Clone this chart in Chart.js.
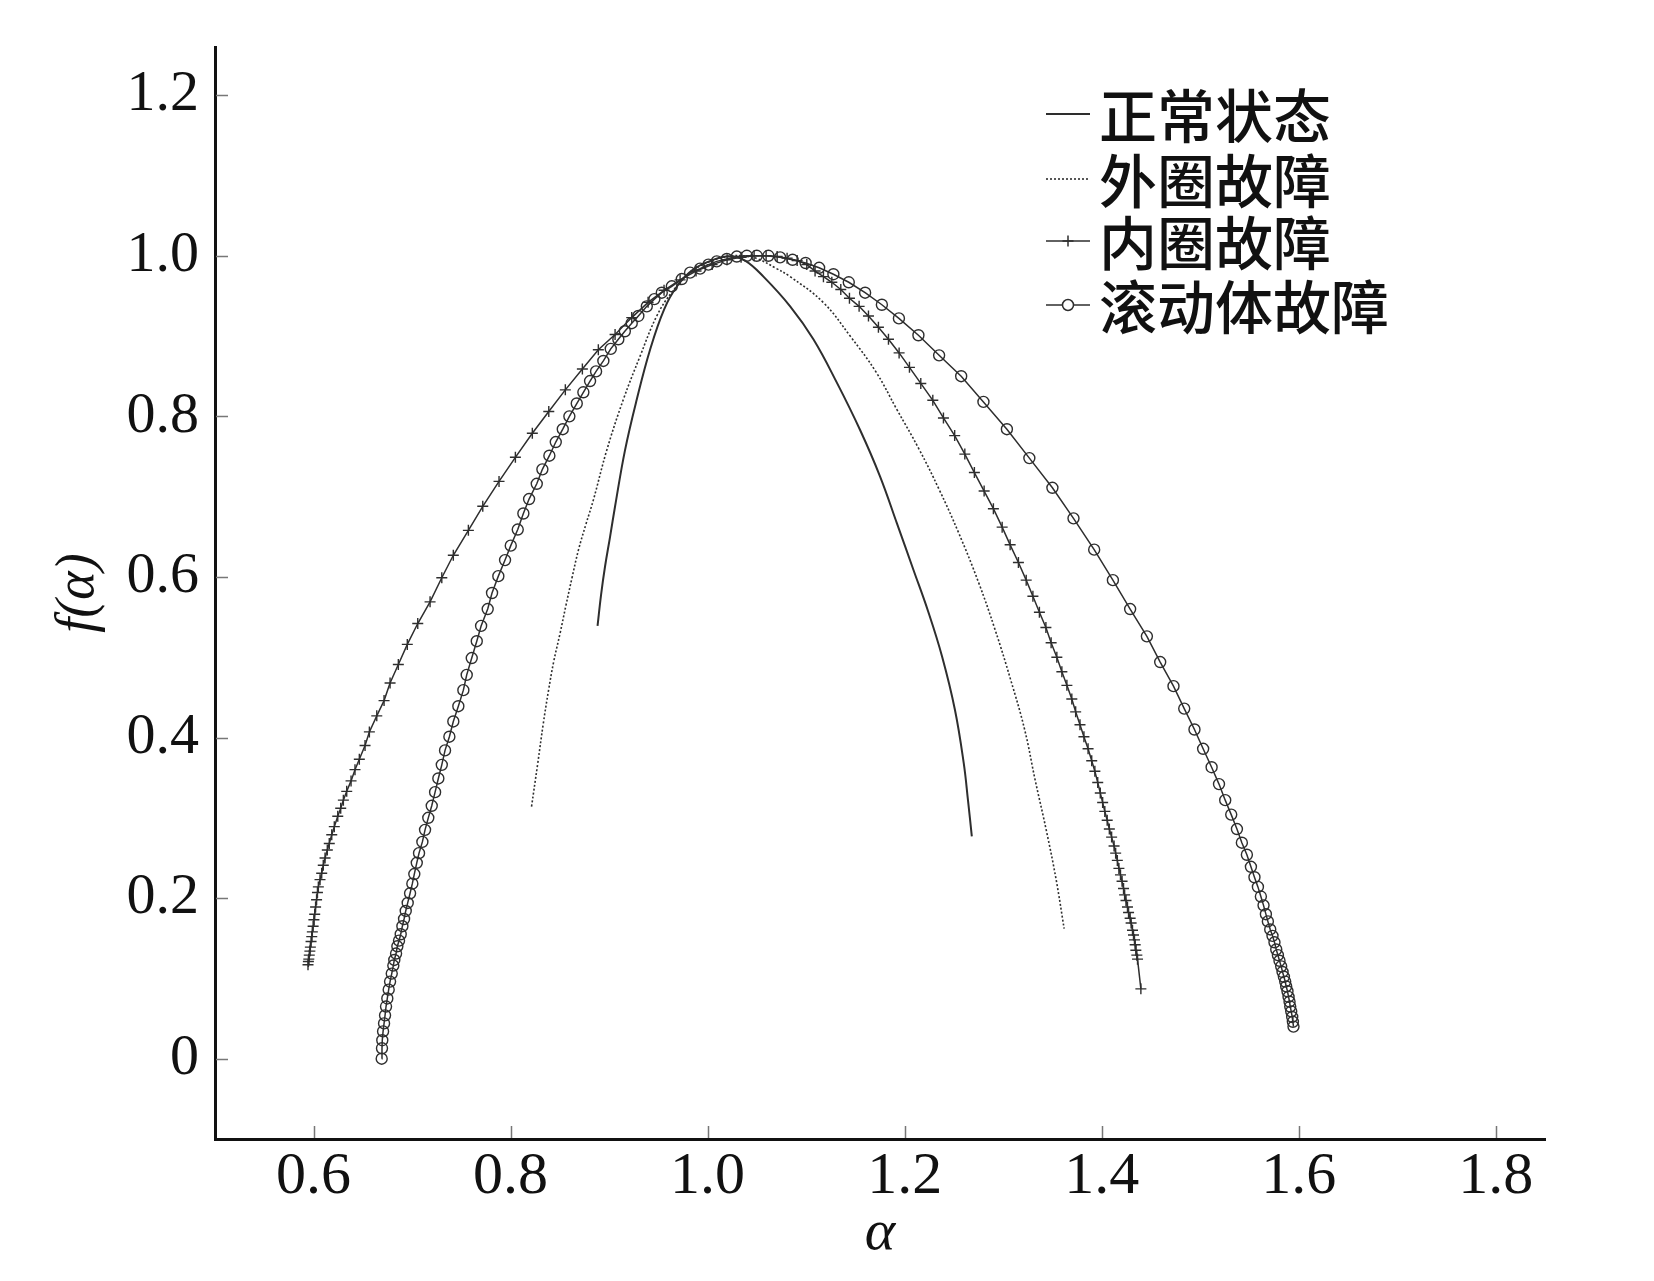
<!DOCTYPE html>
<html>
<head>
<meta charset="utf-8">
<script src="https://cdn.jsdelivr.net/npm/chart.js@4.4.1/dist/chart.umd.min.js"></script>
<style>
  html, body { margin: 0; padding: 0; background: #fff; }
  #wrap { width: 1654px; height: 1281px; }
</style>
</head>
<body>
<div id="wrap"><canvas id="chart" width="1654" height="1281"></canvas></div>
<script>
// ticks
const xTicks = [0.6, 0.8, 1.0, 1.2, 1.4, 1.6, 1.8];
const xTickLabels = ['0.6', '0.8', '1.0', '1.2', '1.4', '1.6', '1.8'];
const yTicks = [0, 0.2, 0.4, 0.6, 0.8, 1.0, 1.2];
const yTickLabels = ['0', '0.2', '0.4', '0.6', '0.8', '1.0', '1.2'];

const seriesNames = ['正常状态', '外圈故障', '内圈故障', '滚动体故障'];

// 正常状态
const normalAlpha = [0.8883, 0.8919, 0.8959, 0.9010, 0.9061, 0.9162, 0.9281, 0.9416, 0.9558, 0.9690,
  0.9856, 1.0059, 1.0228, 1.0381, 1.0567, 1.0838, 1.1074, 1.1312, 1.1548, 1.1751,
  1.1921, 1.2089, 1.2239, 1.2380, 1.2510, 1.2600, 1.2643, 1.2682];
const normalF = [0.539, 0.578, 0.613, 0.650, 0.688, 0.758, 0.821, 0.883, 0.933, 0.962,
  0.983, 0.995, 0.9995, 0.994, 0.974, 0.937, 0.896, 0.842, 0.783, 0.725,
  0.667, 0.609, 0.557, 0.501, 0.435, 0.368, 0.322, 0.277];

// 外圈故障
const outerAlpha = [0.8213, 0.8274, 0.8333, 0.8386, 0.8437, 0.8503, 0.8563, 0.8624, 0.8690, 0.8766,
  0.8841, 0.8977, 0.9145, 0.9315, 0.9484, 0.9640, 0.9822, 1.0025, 1.0228, 1.0381,
  1.0513, 1.0685, 1.0838, 1.1173, 1.1447, 1.1711, 1.1919, 1.2147, 1.2350, 1.2548,
  1.2751, 1.2919, 1.3076, 1.3218, 1.3325, 1.3437, 1.3538, 1.3619];
const outerF = [0.314, 0.366, 0.418, 0.459, 0.494, 0.530, 0.565, 0.599, 0.634, 0.666,
  0.696, 0.758, 0.821, 0.875, 0.925, 0.955, 0.979, 0.993, 0.9995, 0.9998,
  0.996, 0.985, 0.974, 0.942, 0.900, 0.855, 0.809, 0.759, 0.709, 0.655,
  0.593, 0.534, 0.472, 0.410, 0.347, 0.285, 0.223, 0.162];

// 内圈故障
const innerAlpha = [0.5944, 0.5948, 0.5952, 0.5957, 0.5963, 0.5968, 0.5975, 0.5982, 0.5988, 0.5996,
  0.6004, 0.6012, 0.6021, 0.6031, 0.6040, 0.6049, 0.6066, 0.6083, 0.6099, 0.6117,
  0.6140, 0.6160, 0.6185, 0.6211, 0.6246, 0.6276, 0.6303, 0.6337, 0.6381, 0.6421,
  0.6465, 0.6523, 0.6567, 0.6642, 0.6716, 0.6777, 0.6861, 0.6952, 0.7058, 0.7183,
  0.7302, 0.7419, 0.7572, 0.7718, 0.7883, 0.8049, 0.8221, 0.8388, 0.8556, 0.8729,
  0.8891, 0.9061, 0.9230, 0.9396, 0.9558, 0.9721, 0.9883, 1.0046, 1.0198, 1.0340,
  1.0472, 1.0594, 1.0706, 1.0807, 1.0909, 1.1007, 1.1091, 1.1176, 1.1261, 1.1352,
  1.1440, 1.1538, 1.1633, 1.1734, 1.1836, 1.1944, 1.2049, 1.2164, 1.2286, 1.2394,
  1.2508, 1.2611, 1.2708, 1.2807, 1.2901, 1.2990, 1.3071, 1.3155, 1.3234, 1.3302,
  1.3368, 1.3434, 1.3487, 1.3545, 1.3596, 1.3647, 1.3697, 1.3736, 1.3780, 1.3820,
  1.3862, 1.3899, 1.3931, 1.3960, 1.3986, 1.4010, 1.4032, 1.4056, 1.4078, 1.4101,
  1.4126, 1.4142, 1.4159, 1.4175, 1.4191, 1.4207, 1.4222, 1.4233, 1.4247, 1.4262,
  1.4273, 1.4289, 1.4299, 1.4313, 1.4323, 1.4333, 1.4340, 1.4347, 1.4357, 1.4364,
  1.4398];
const innerF = [0.117, 0.121, 0.124, 0.129, 0.134, 0.139, 0.146, 0.152, 0.158, 0.165,
  0.173, 0.180, 0.189, 0.198, 0.207, 0.214, 0.223, 0.231, 0.241, 0.250,
  0.260, 0.268, 0.279, 0.289, 0.302, 0.312, 0.322, 0.333, 0.346, 0.360,
  0.373, 0.390, 0.407, 0.427, 0.446, 0.468, 0.491, 0.516, 0.542, 0.569,
  0.599, 0.627, 0.658, 0.688, 0.719, 0.749, 0.779, 0.806, 0.833, 0.859,
  0.883, 0.902, 0.923, 0.942, 0.957, 0.970, 0.981, 0.989, 0.995, 0.998,
  0.9999, 1.000, 0.999, 0.997, 0.994, 0.989, 0.981, 0.974, 0.967, 0.958,
  0.947, 0.937, 0.925, 0.911, 0.896, 0.879, 0.861, 0.841, 0.820, 0.798,
  0.776, 0.753, 0.730, 0.707, 0.685, 0.662, 0.640, 0.618, 0.596, 0.576,
  0.556, 0.537, 0.518, 0.500, 0.482, 0.465, 0.448, 0.432, 0.416, 0.401,
  0.386, 0.371, 0.358, 0.344, 0.331, 0.319, 0.308, 0.297, 0.286, 0.276,
  0.265, 0.256, 0.247, 0.237, 0.229, 0.221, 0.212, 0.204, 0.197, 0.189,
  0.182, 0.175, 0.169, 0.160, 0.154, 0.148, 0.142, 0.135, 0.129, 0.124,
  0.087];

// 滚动体故障
const ballAlpha = [0.6692, 0.6695, 0.6698, 0.6706, 0.6716, 0.6726, 0.6736, 0.6749, 0.6763, 0.6777,
  0.6794, 0.6810, 0.6820, 0.6838, 0.6851, 0.6868, 0.6885, 0.6902, 0.6919, 0.6936,
  0.6956, 0.6980, 0.7003, 0.7023, 0.7048, 0.7071, 0.7105, 0.7132, 0.7165, 0.7200,
  0.7234, 0.7267, 0.7302, 0.7335, 0.7379, 0.7419, 0.7470, 0.7521, 0.7555, 0.7606,
  0.7657, 0.7701, 0.7768, 0.7812, 0.7876, 0.7944, 0.8002, 0.8073, 0.8130, 0.8188,
  0.8266, 0.8323, 0.8394, 0.8459, 0.8530, 0.8597, 0.8672, 0.8739, 0.8807, 0.8868,
  0.8942, 0.9017, 0.9094, 0.9160, 0.9230, 0.9297, 0.9383, 0.9460, 0.9535, 0.9637,
  0.9738, 0.9822, 0.9924, 1.0008, 1.0093, 1.0195, 1.0296, 1.0398, 1.0499, 1.0617,
  1.0736, 1.0863, 1.0995, 1.1132, 1.1277, 1.1433, 1.1599, 1.1769, 1.1942, 1.2140,
  1.2350, 1.2574, 1.2800, 1.3038, 1.3266, 1.3500, 1.3714, 1.3924, 1.4114, 1.4289,
  1.4459, 1.4594, 1.4729, 1.4838, 1.4942, 1.5030, 1.5116, 1.5191, 1.5254, 1.5315,
  1.5373, 1.5423, 1.5474, 1.5515, 1.5551, 1.5586, 1.5616, 1.5643, 1.5667, 1.5687,
  1.5711, 1.5734, 1.5754, 1.5772, 1.5789, 1.5805, 1.5822, 1.5836, 1.5850, 1.5863,
  1.5873, 1.5886, 1.5897, 1.5907, 1.5914, 1.5924, 1.5934, 1.5941, 1.5947];
const ballF = [0.000, 0.013, 0.023, 0.034, 0.044, 0.054, 0.065, 0.075, 0.086, 0.096,
  0.106, 0.116, 0.123, 0.131, 0.140, 0.147, 0.155, 0.165, 0.174, 0.184,
  0.194, 0.206, 0.218, 0.230, 0.244, 0.256, 0.270, 0.285, 0.300, 0.315,
  0.332, 0.349, 0.366, 0.384, 0.401, 0.420, 0.439, 0.459, 0.478, 0.499,
  0.520, 0.539, 0.560, 0.580, 0.601, 0.621, 0.639, 0.659, 0.679, 0.697,
  0.716, 0.734, 0.751, 0.768, 0.784, 0.800, 0.816, 0.830, 0.844, 0.856,
  0.869, 0.884, 0.896, 0.906, 0.916, 0.925, 0.937, 0.946, 0.954, 0.962,
  0.971, 0.979, 0.984, 0.989, 0.993, 0.996, 0.999, 1.000, 1.000, 1.000,
  0.998, 0.995, 0.991, 0.985, 0.977, 0.967, 0.954, 0.939, 0.922, 0.901,
  0.876, 0.850, 0.818, 0.784, 0.748, 0.711, 0.673, 0.634, 0.596, 0.560,
  0.526, 0.494, 0.464, 0.436, 0.410, 0.386, 0.363, 0.342, 0.322, 0.304,
  0.286, 0.269, 0.254, 0.239, 0.226, 0.214, 0.202, 0.191, 0.180, 0.171,
  0.161, 0.153, 0.145, 0.136, 0.129, 0.122, 0.115, 0.108, 0.102, 0.096,
  0.090, 0.084, 0.077, 0.071, 0.065, 0.059, 0.052, 0.046, 0.040];

const toPoints = (xs, ys) => xs.map((x, i) => ({ x: x, y: ys[i] }));

const LINE = '#2e2e2e';
const SERIF = '"Liberation Serif", "Times New Roman", serif';

const seriesStyles = [
  { borderWidth: 2, borderDash: [], pointStyle: false, pointRadius: 0, tension: 0.4 },
  { borderWidth: 1.6, borderDash: [2, 2], pointStyle: false, pointRadius: 0, tension: 0.4 },
  { borderWidth: 1.5, borderDash: [], pointStyle: 'cross', pointRadius: 5.5, tension: 0 },
  { borderWidth: 1.5, borderDash: [], pointStyle: 'circle', pointRadius: 5.5, tension: 0 }
];

// inward tick marks + legend drawn on the canvas
const decorPlugin = {
  id: 'decor',
  afterDraw(chart) {
    const ctx = chart.ctx;
    const xs = chart.scales.x, ys = chart.scales.y;
    const area = chart.chartArea;
    ctx.save();
    ctx.strokeStyle = '#777';
    ctx.lineWidth = 1.5;
    xTicks.forEach(v => {
      const px = Math.round(xs.getPixelForValue(v)) + 0.5;
      ctx.beginPath();
      ctx.moveTo(px, area.bottom - 1);
      ctx.lineTo(px, area.bottom - 13);
      ctx.stroke();
    });
    yTicks.forEach(v => {
      const py = Math.round(ys.getPixelForValue(v)) + 0.5;
      ctx.beginPath();
      ctx.moveTo(area.left + 1, py);
      ctx.lineTo(area.left + 13, py);
      ctx.stroke();
    });

    // legend
    const rowY = [114, 179, 241, 305];
    const x0 = 1046, x1 = 1090, tx = 1099;
    seriesNames.forEach((name, i) => {
      const st = seriesStyles[i];
      const y = rowY[i];
      ctx.strokeStyle = LINE;
      ctx.lineWidth = st.borderWidth;
      ctx.setLineDash(st.borderDash);
      ctx.beginPath();
      ctx.moveTo(x0, y);
      ctx.lineTo(x1, y);
      ctx.stroke();
      ctx.setLineDash([]);
      if (st.pointStyle) {
        ctx.fillStyle = '#fff';
        ctx.strokeStyle = LINE;
        Chart.helpers.drawPoint(ctx, {
          pointStyle: st.pointStyle, radius: st.pointRadius, borderWidth: 1.5, rotation: 0
        }, (x0 + x1) / 2, y);
      }
      ctx.fillStyle = '#111';
      ctx.font = '500 58px "Noto Sans CJK SC"';
      ctx.textBaseline = 'middle';
      ctx.textAlign = 'left';
      ctx.fillText(name, tx, y + 2);
    });
    ctx.restore();
  }
};

const dataSets = [
  toPoints(normalAlpha, normalF),
  toPoints(outerAlpha, outerF),
  toPoints(innerAlpha, innerF),
  toPoints(ballAlpha, ballF)
];

new Chart(document.getElementById('chart'), {
  type: 'scatter',
  data: {
    datasets: dataSets.map((d, i) => ({
      label: seriesNames[i],
      data: d,
      showLine: true,
      borderColor: LINE,
      backgroundColor: 'rgba(0,0,0,0)',
      borderWidth: seriesStyles[i].borderWidth,
      borderDash: seriesStyles[i].borderDash,
      pointStyle: seriesStyles[i].pointStyle || 'circle',
      pointRadius: seriesStyles[i].pointRadius,
      pointBorderColor: LINE,
      pointBackgroundColor: 'rgba(0,0,0,0)',
      pointBorderWidth: 1.4,
      tension: seriesStyles[i].tension
    }))
  },
  options: {
    responsive: false,
    animation: false,
    devicePixelRatio: 1,
    layout: { padding: { top: 47, right: 109, left: 0, bottom: 0 } },
    plugins: {
      legend: { display: false },
      tooltip: { enabled: false }
    },
    scales: {
      x: {
        type: 'linear',
        min: 0.5,
        max: 1.85,
        afterBuildTicks: s => { s.ticks = xTicks.map(v => ({ value: v })); },
        afterFit: s => { s.height = 142; },
        grid: { display: false },
        border: { display: true, color: '#111', width: 3 },
        ticks: {
          callback: (v, i) => xTickLabels[i],
          color: '#111',
          font: { family: SERIF, size: 60 },
          padding: -6,
          maxRotation: 0,
          autoSkip: false
        },
        title: {
          display: true,
          text: 'α',
          color: '#111',
          font: { family: SERIF, size: 58, style: 'italic' },
          padding: { top: 0, bottom: 12 }
        }
      },
      y: {
        type: 'linear',
        min: -0.1,
        max: 1.26,
        afterBuildTicks: s => { s.ticks = yTicks.map(v => ({ value: v })); },
        afterFit: s => { s.width = 215; },
        grid: { display: false },
        border: { display: true, color: '#111', width: 3 },
        ticks: {
          callback: (v, i) => yTickLabels[i],
          color: '#111',
          font: { family: SERIF, size: 58 },
          padding: 8,
          autoSkip: false
        },
        title: {
          display: true,
          text: 'f(α)',
          color: '#111',
          font: { family: SERIF, size: 54, style: 'italic' },
          padding: { top: 46, bottom: 0 }
        }
      }
    }
  },
  plugins: [decorPlugin]
});
</script>
</body>
</html>
